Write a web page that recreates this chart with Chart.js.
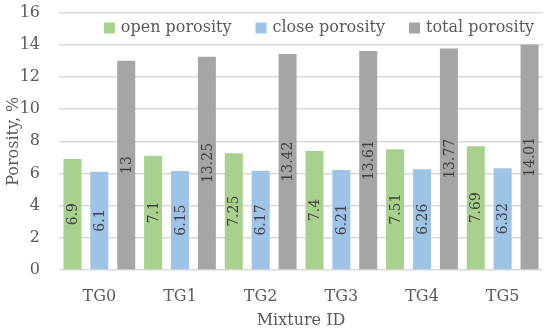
<!DOCTYPE html>
<html>
<head>
<meta charset="utf-8">
<script src="https://cdn.jsdelivr.net/npm/chart.js@4"></script>
<style>
  html, body { margin: 0; padding: 0; background: #fff; }
  #wrap { width: 550px; height: 332px; }
</style>
</head>
<body>
<div id="wrap"><canvas id="porosityChart" width="550" height="332"></canvas></div>
<script>
const mixtures = ['TG0', 'TG1', 'TG2', 'TG3', 'TG4', 'TG5'];
const openPorosity = [6.9, 7.1, 7.25, 7.4, 7.51, 7.69];
const closePorosity = [6.1, 6.15, 6.17, 6.21, 6.26, 6.32];
const totalPorosity = [13, 13.25, 13.42, 13.61, 13.77, 14.01];
const yTicks = [0, 2, 4, 6, 8, 10, 12, 14, 16];

const fontFamily = '"DejaVu Serif", "Liberation Serif", serif';
const textColor = '#595959';

// draws the value inside each bar, turned on its side
const barValues = {
    id: 'barValues',
    afterDatasetsDraw(chart) {
        const ctx = chart.ctx;
        ctx.save();
        ctx.font = '14px ' + fontFamily;
        ctx.fillStyle = '#404040';
        ctx.textAlign = 'center';
        ctx.textBaseline = 'middle';
        chart.data.datasets.forEach((ds, i) => {
            const meta = chart.getDatasetMeta(i);
            meta.data.forEach((bar, j) => {
                const cy = (bar.y + bar.base) / 2;
                ctx.save();
                ctx.translate(bar.x + 1, cy);
                ctx.rotate(-Math.PI / 2);
                ctx.fillText(String(ds.data[j]), 0, 0);
                ctx.restore();
            });
        });
        ctx.restore();
    }
};

// legend sitting inside the plot, between the 16 and 14 gridlines
const innerLegend = {
    id: 'innerLegend',
    afterDatasetsDraw(chart) {
        const ctx = chart.ctx;
        const area = chart.chartArea;
        const box = 11, gapText = 6, gapItem = 24;
        ctx.save();
        ctx.font = '16px ' + fontFamily;
        ctx.textBaseline = 'middle';
        ctx.textAlign = 'left';
        const items = chart.data.datasets.map(ds => ({
            text: ds.label, color: ds.backgroundColor, w: ctx.measureText(ds.label).width
        }));
        let total = 0;
        items.forEach((it, k) => { total += box + gapText + it.w + (k ? gapItem : 0); });
        let x = (area.left + area.right) / 2 + 18 - total / 2;
        const y = area.top + 15.5;
        items.forEach(it => {
            ctx.fillStyle = it.color;
            ctx.fillRect(x, y - box / 2, box, box);
            ctx.fillStyle = textColor;
            ctx.fillText(it.text, x + box + gapText, y);
            x += box + gapText + it.w + gapItem;
        });
        ctx.restore();
    }
};

new Chart(document.getElementById('porosityChart').getContext('2d'), {
    type: 'bar',
    data: {
        labels: mixtures,
        datasets: [
            { label: 'open porosity', data: openPorosity, backgroundColor: '#a9d18e' },
            { label: 'close porosity', data: closePorosity, backgroundColor: '#9dc3e6' },
            { label: 'total porosity', data: totalPorosity, backgroundColor: '#a5a5a5' }
        ]
    },
    options: {
        responsive: false,
        animation: false,
        layout: { padding: { top: 0, right: 7, bottom: 2, left: 0 } },
        datasets: {
            bar: { categoryPercentage: 1.0, barPercentage: 0.67 }
        },
        plugins: {
            legend: { display: false },
            tooltip: { enabled: false }
        },
        scales: {
            x: {
                afterFit(scale) { scale.height = 60; },
                grid: { display: false, drawTicks: false },
                border: { display: false },
                ticks: { font: { family: fontFamily, size: 16 }, color: textColor, padding: 17 },
                title: { display: true, text: 'Mixture ID', font: { family: fontFamily, size: 16 }, color: textColor, padding: { top: 4, bottom: 0 } }
            },
            y: {
                min: 0,
                max: 16,
                afterFit(scale) {
                    scale.width = 59;
                    scale.paddingTop = 12.5;
                    scale.paddingBottom = 0;
                },
                afterBuildTicks(axis) { axis.ticks = yTicks.map(v => ({ value: v })); },
                grid: { color: '#d9d9d9', lineWidth: 1.5, drawTicks: false },
                border: { display: false },
                ticks: { font: { family: fontFamily, size: 16 }, color: textColor, padding: 19 },
                title: { display: true, text: 'Porosity, %', font: { family: fontFamily, size: 16 }, color: textColor, padding: { top: 4, bottom: 0 } }
            }
        }
    },
    plugins: [barValues, innerLegend]
});
</script>
</body>
</html>
